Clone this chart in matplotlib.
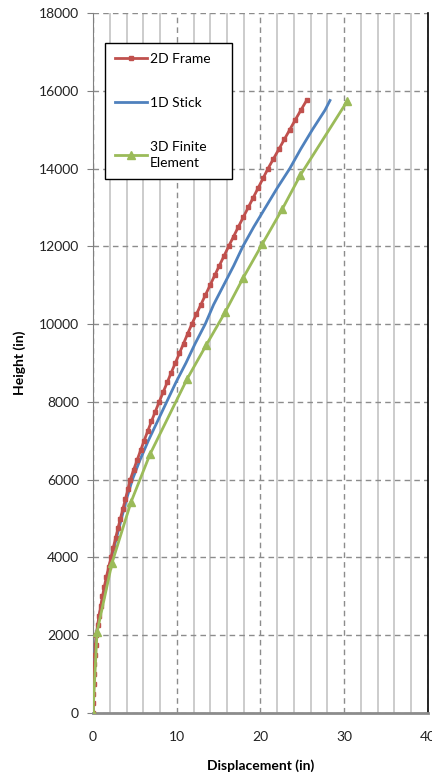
import matplotlib
matplotlib.use('Agg')
import matplotlib.pyplot as plt
from matplotlib.ticker import MultipleLocator

plt.rcParams['font.family'] = ['Lato', 'DejaVu Sans']

# 2D Frame: one point per storey level (every 250 in)
frame_height = [0, 250, 500, 750, 1000, 1250, 1500, 1750, 2000, 2250, 2500, 2750,
                3000, 3250, 3500, 3750, 4000, 4250, 4500, 4750, 5000, 5250, 5500, 5750,
                6000, 6250, 6500, 6750, 7000, 7250, 7500, 7750, 8000, 8250, 8500, 8750,
                9000, 9250, 9500, 9750, 10000, 10250, 10500, 10750, 11000, 11250, 11500,
                11750, 12000, 12250, 12500, 12750, 13000, 13250, 13500, 13750, 14000,
                14250, 14500, 14750, 15000, 15250, 15500, 15750]
frame_disp = [0.0, 0.02, 0.05, 0.08, 0.12, 0.17, 0.23, 0.30, 0.40, 0.55, 0.72, 0.92,
              1.13, 1.35, 1.60, 1.87, 2.15, 2.42, 2.70, 2.98, 3.27, 3.57, 3.87, 4.16,
              4.45, 4.85, 5.26, 5.68, 6.10, 6.54, 6.98, 7.44, 7.90, 8.38, 8.86, 9.34,
              9.83, 10.32, 10.81, 11.30, 11.80, 12.34, 12.88, 13.43, 13.98, 14.53, 15.08,
              15.64, 16.20, 16.78, 17.36, 17.95, 18.54, 19.13, 19.72, 20.31, 20.90,
              21.55, 22.20, 22.85, 23.50, 24.15, 24.82, 25.50]

# 1D Stick
stick_height = [0, 500, 1000, 1500, 2000, 2500, 3000, 3500, 4000, 4500, 5000, 5500,
                6000, 6500, 7000, 7500, 8000, 8500, 9000, 9500, 10000, 10500, 11000,
                11500, 12000, 12500, 13000, 13500, 14000, 14500, 15000, 15500, 15750]
stick_disp = [0.0, 0.04, 0.10, 0.20, 0.38, 0.75, 1.20, 1.70, 2.20, 2.80, 3.40, 4.00,
              4.70, 5.60, 6.60, 7.70, 8.80, 9.90, 11.10, 12.20, 13.40, 14.40, 15.60,
              16.80, 17.90, 19.20, 20.60, 22.00, 23.50, 24.80, 26.20, 27.70, 28.30]

# 3D Finite Element
fe_height = [0, 2080, 3860, 5430, 6660, 8590, 9460, 10310, 11190, 12060, 12960, 13830, 15740]
fe_disp = [0.0, 0.48, 2.27, 4.55, 6.82, 11.24, 13.52, 15.79, 17.94, 20.22, 22.61, 24.76, 30.38]

fig = plt.figure(figsize=(4.32, 7.81), dpi=100)
ax = fig.add_axes([0.2153, 0.0871, 0.7754, 0.8963])

ax.plot(frame_disp, frame_height, color='#C0504D', lw=2, marker='s', ms=3.5,
        label='2D Frame', zorder=4)
ax.plot(stick_disp, stick_height, color='#4F81BD', lw=2, label='1D Stick', zorder=3)
ax.plot(fe_disp, fe_height, color='#9BBB59', lw=2, marker='^', ms=6,
        label='3D Finite\nElement', zorder=5)

ax.set_xlim(0, 40)
ax.set_ylim(0, 18000)
ax.xaxis.set_major_locator(MultipleLocator(10))
ax.xaxis.set_minor_locator(MultipleLocator(2))
ax.yaxis.set_major_locator(MultipleLocator(2000))

ax.grid(which='major', color='#8C8C8C', linestyle=(0, (4, 3)), lw=1)
ax.grid(which='minor', axis='x', color='#C4C4C4', linestyle='-', lw=1.2)
ax.set_axisbelow(True)

ax.spines['top'].set_visible(False)
ax.spines['left'].set_color('#808080')
ax.spines['bottom'].set_color('#8C8C8C')
ax.spines['bottom'].set_linewidth(2)
ax.spines['right'].set_color('black')
ax.spines['right'].set_linewidth(1.2)

ax.tick_params(axis='y', which='major', direction='out', length=4, color='#808080',
               pad=6, labelsize=10, labelcolor='#222222')
ax.tick_params(axis='x', which='both', length=0, pad=13, labelsize=10,
               labelcolor='#222222')

ax.set_xlabel('Displacement (in)', fontsize=10, fontweight='bold', labelpad=12)
ax.set_ylabel('Height (in)', fontsize=10, fontweight='bold', labelpad=9)

leg = ax.legend(loc='upper left', bbox_to_anchor=(0.036, 0.769, 0.379, 0.188),
                mode='expand', fontsize=10,
                frameon=True, fancybox=False, edgecolor='black', framealpha=1,
                labelspacing=2.3, handlelength=2.3, handletextpad=0.2,
                borderpad=0.7, borderaxespad=0)
leg.get_frame().set_linewidth(1)
for txt in leg.get_texts():
    txt.set_linespacing(1.45)
for line in leg.get_lines():
    line.set_markevery([1])

fig.savefig('out.png', dpi=100)
